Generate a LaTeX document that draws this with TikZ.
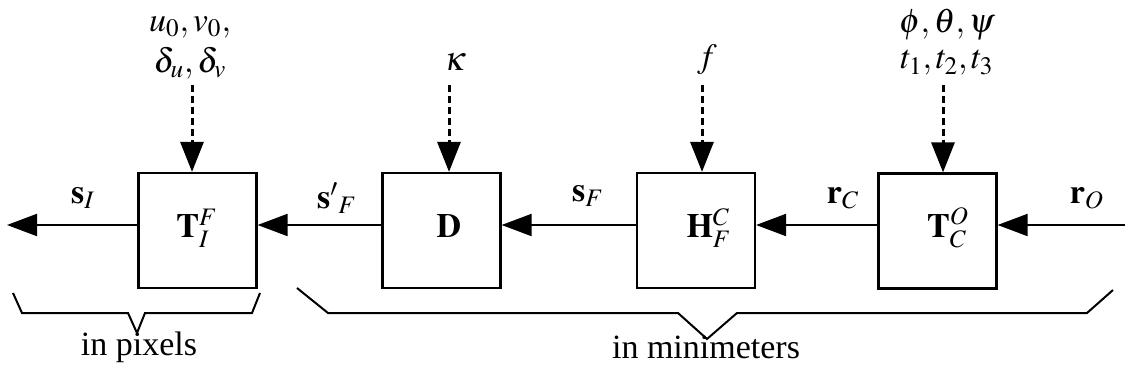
\documentclass[tikz,border=0pt]{standalone}
\usepackage{mathptmx}
\usepackage{fontspec}
\setmainfont{Liberation Serif}
\usetikzlibrary{arrows.meta,calc}
\begin{document}
\begin{tikzpicture}[x=0.5pt,y=-0.5pt,
  font=\fontsize{17}{20}\selectfont,
  blk/.style={draw,line width=1.1pt,minimum width=59pt,minimum height=57.5pt,inner sep=0pt},
  arr/.style={line width=1pt,-{Triangle[length=15pt,width=11pt]}},
  darr/.style={line width=1.5pt,dash pattern=on 3.5pt off 2pt,-{Triangle[length=15pt,width=11.5pt]}},
  lab/.style={inner sep=0pt},
  brace/.style={line width=1pt,line join=miter}]
\useasboundingbox (0,0) rectangle (1125,375);
\coordinate (m) at (0,225);
% blocks
\node[blk] (b1) at (197.5,230.5) {};
\node[blk] (b2) at (441.5,230.5) {};
\node[blk] (b3) at (696,230.5) {};
\node[blk] (b4) at (937.5,231) {};
\node[lab] (t1) at (197,228) {$\mathbf{T}_I^F$};
\node[lab] (t2) at (449,226) {$\mathbf{D}$};
\node[lab] (t3) at (709,228) {$\mathbf{H}_F^C$};
\node[lab] (t4) at (948,228) {$\mathbf{T}_C^O$};
% ends
\coordinate (out) at (7,225);
\coordinate (in) at (1125,225);
% horizontal arrows
\draw[arr] (b1.west |- m) -- (out);
\draw[arr] (b2.west |- m) -- (b1.east |- m);
\draw[arr] (b3.west |- m) -- (b2.east |- m);
\draw[arr] (b4.west |- m) -- (b3.east |- m);
\draw[arr] (in) -- (b4.east |- m);
% edge labels
\node[lab] (lsI) at (83,198) {$\mathbf{s}_I$};
\node[lab] (lsF1) at (337,198) {$\mathbf{s}'{}_F$};
\node[lab] (lsF) at (588,196) {$\mathbf{s}_F$};
\node[lab] (lrC) at (843,198) {$\mathbf{r}_C$};
\node[lab] (lrO) at (1087,198) {$\mathbf{r}_O$};
% parameter labels
\node[lab] (p1a) at (190,27) {$u_0, v_0,$};
\node[lab] (p1b) at (190,63) {$\delta_u, \delta_v$};
\node[lab] (p2) at (455,62) {$\kappa$};
\node[lab] (p3) at (707,60) {$f$};
\node[lab] (p4a) at (947,25) {$\phi, \theta, \psi$};
\node[lab] (p4b) at (947,63) {$t_1, t_2, t_3$};
% dashed arrows
\coordinate (d1) at (192,85);
\coordinate (d2) at (449,85);
\coordinate (d3) at (702,85);
\coordinate (d4) at (943,85);
\draw[darr] (d1) -- (d1 |- b1.north);
\draw[darr] (d2) -- (d2 |- b2.north);
\draw[darr] (d3) -- (d3 |- b3.north);
\draw[darr] (d4) -- (d4 |- b4.north);
% braces
\draw[brace] (13,293) -- (22,313) -- (128,313) -- (137,333) -- (145,313) -- (252,313) -- (260,293);
\draw[brace] (297,288) -- (328,313) -- (678,313) -- (707,339) -- (737,313) -- (1087,313) -- (1113,290);
\node[lab] (px) at (139,347) {in pixels};
\node[lab] (mm) at (706,347) {in minimeters};
\end{tikzpicture}
\end{document}
